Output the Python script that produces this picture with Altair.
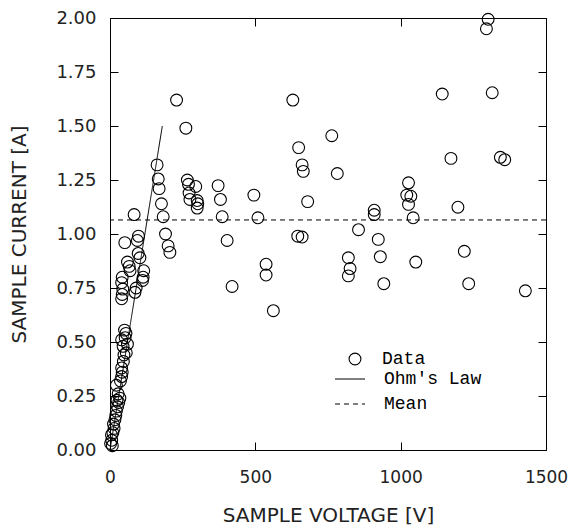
import altair as alt
import pandas as pd

# ---- data ----
voltage = [
    2, 6, 8, 5, 10, 14, 12, 17, 20, 22, 26, 30, 24, 34, 28, 22, 36, 40, 42, 40,
    46, 48, 56, 45, 60, 40, 52, 55, 50,
    40, 42, 44, 40, 42, 66, 69, 60, 86, 90, 114, 112, 116, 97, 103, 94, 98, 51, 83,
    162, 166, 169, 177, 183, 191, 200, 206, 229, 261,
    266, 270, 295, 272, 275, 300, 302, 300,
    372, 380, 386, 403, 420, 495, 509, 537, 537, 562,
    629, 649, 661, 665, 680, 646, 661,
    763, 782, 855, 820, 826, 820,
    909, 909, 923, 930, 942,
    1027, 1021, 1035, 1027, 1043, 1052,
    1143, 1173, 1197, 1219, 1234,
    1301, 1295, 1315, 1343, 1358, 1429,
]
current = [
    0.03, 0.045, 0.02, 0.07, 0.08, 0.10, 0.12, 0.14, 0.16, 0.18, 0.20, 0.22, 0.23, 0.24, 0.26, 0.30, 0.32, 0.34, 0.36, 0.38,
    0.41, 0.44, 0.45, 0.48, 0.49, 0.51, 0.52, 0.54, 0.555,
    0.70, 0.72, 0.745, 0.775, 0.80, 0.85, 0.83, 0.87, 0.73, 0.75, 0.80, 0.785, 0.83, 0.91, 0.89, 0.97, 0.99, 0.96, 1.09,
    1.32, 1.255, 1.21, 1.14, 1.08, 1.00, 0.945, 0.915, 1.62, 1.49,
    1.25, 1.23, 1.22, 1.19, 1.16, 1.155, 1.14, 1.12,
    1.224, 1.16, 1.08, 0.97, 0.757, 1.18, 1.075, 0.86, 0.81, 0.645,
    1.62, 1.40, 1.32, 1.29, 1.15, 0.99, 0.986,
    1.455, 1.28, 1.02, 0.89, 0.84, 0.806,
    1.11, 1.09, 0.975, 0.895, 0.77,
    1.237, 1.18, 1.175, 1.137, 1.075, 0.87,
    1.648, 1.35, 1.124, 0.92, 0.77,
    1.994, 1.95, 1.654, 1.355, 1.344, 0.737,
]
ohm_v = [0, 180]
ohm_i = [0, 1.5]
mean_current = [1.065]
x_ticks = [0, 500, 1000, 1500]
y_ticks = [0.0, 0.25, 0.5, 0.75, 1.0, 1.25, 1.5, 1.75, 2.0]
series_names = ["Data", "Ohm's Law", "Mean"]

pts = pd.DataFrame({"V": voltage, "I": current, "series": series_names[0]})
ohm = pd.DataFrame({"V": ohm_v, "I": ohm_i, "series": series_names[1]})
mean = pd.DataFrame({"I": mean_current, "series": series_names[2]})

xscale = alt.Scale(domain=[0, 1500], nice=False, zero=False)
yscale = alt.Scale(domain=[0, 2], nice=False)

tick_style = dict(offset=-8, tickSize=8, domain=False, grid=False,
                  tickColor="black", tickWidth=1, labelFlush=False, labelOverlap=False)

dash_scale = alt.Scale(domain=series_names[1:], range=[[1, 0], [5, 4]])

points = alt.Chart(pts).mark_point(
    filled=False, size=140, strokeWidth=1.1, color="black", opacity=1
).encode(
    x=alt.X("V:Q", scale=xscale,
            axis=alt.Axis(orient="bottom", values=x_ticks, format="d",
                          title="SAMPLE VOLTAGE [V]", labelPadding=19, labelFontSize=17,
                          titlePadding=20, **tick_style)),
    y=alt.Y("I:Q", scale=yscale,
            axis=alt.Axis(orient="left", values=y_ticks, format=".2f",
                          title="SAMPLE CURRENT [A]", labelPadding=14,
                          titlePadding=26, **tick_style)),
    shape=alt.Shape("series:N",
                    scale=alt.Scale(domain=series_names[:1], range=["circle"]),
                    legend=alt.Legend(title=None, orient="none", legendX=236, legendY=332,
                                      symbolSize=140, labelOffset=18, padding=0)),
)

ohm_line = alt.Chart(ohm).mark_line(color="black", strokeWidth=1).encode(
    x=alt.X("V:Q", scale=xscale,
            axis=alt.Axis(orient="top", values=x_ticks, labels=False, title=None, **tick_style)),
    y=alt.Y("I:Q", scale=yscale,
            axis=alt.Axis(orient="right", values=y_ticks, labels=False, title=None, **tick_style)),
    strokeDash=alt.StrokeDash("series:N", scale=dash_scale,
                              legend=alt.Legend(title=None, orient="none", legendX=224, legendY=345,
                                                symbolSize=900, labelOffset=18, padding=0,
                                                rowPadding=-2, symbolType="stroke")),
)

mean_rule = alt.Chart(mean).mark_rule(color="black", strokeWidth=1).encode(
    y=alt.Y("I:Q", scale=yscale, axis=None),
    strokeDash=alt.StrokeDash("series:N", scale=dash_scale),
)

chart = alt.layer(points, ohm_line, mean_rule).resolve_axis(
    x="independent", y="independent"
).properties(
    width=436, height=432,
    autosize=alt.AutoSizeParams(type="none"),
    padding={"left": 102, "top": 10, "right": 22, "bottom": 80},
    background="white",
).configure_view(
    stroke="black", strokeWidth=1
).configure_axis(
    labelFont="DejaVu Sans", labelFontSize=18, labelColor="#222",
    titleFont="DejaVu Sans", titleFontSize=20, titleFontWeight="normal", titleColor="#222",
).configure_legend(
    labelFont="Liberation Mono", labelFontSize=18, labelColor="black",
    symbolStrokeColor="black", symbolStrokeWidth=1.1,
)

chart.save("out.html", embed_options={"renderer": "svg", "actions": False})
